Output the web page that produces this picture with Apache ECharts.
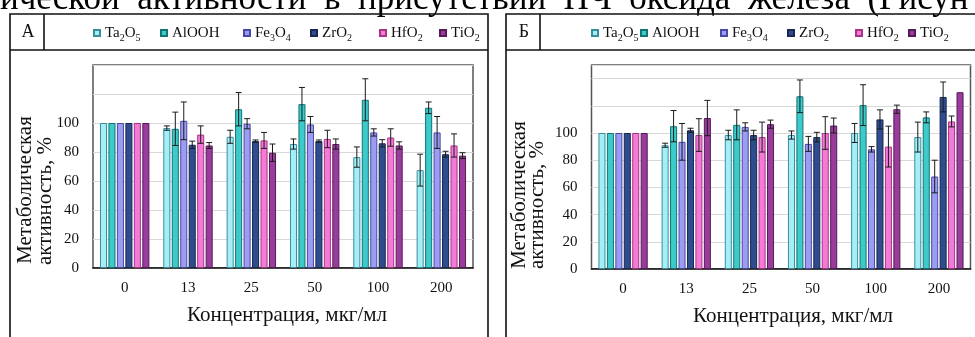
<!DOCTYPE html>
<html><head><meta charset="utf-8">
<script src="https://cdn.jsdelivr.net/npm/echarts@6/dist/echarts.min.js"></script>
<style>html,body{margin:0;padding:0;background:#fff}#c{width:975px;height:337px}</style>
</head><body><div id="c"></div>
<script>
// ---------- data ----------
const categories = ['0', '13', '25', '50', '100', '200'];
const oxides = ['Ta2O5', 'AlOOH', 'Fe3O4', 'ZrO2', 'HfO2', 'TiO2'];
const legendLabels = ['Ta{s|2}O{s|5}', 'AlOOH', 'Fe{s|3}O{s|4}', 'ZrO{s|2}', 'HfO{s|2}', 'TiO{s|2}'];
const yTickLabelsShown = [0, 20, 40, 60, 80, 100];

// Panel A values (%)
const A_Ta2O5 = [100, 96.5, 90.5, 85.5, 76.5, 67.5];
const A_AlOOH = [100, 96, 109.5, 113, 116, 110.5];
const A_Fe3O4 = [100, 101.5, 99.5, 99, 93.5, 93.5];
const A_ZrO2  = [100, 85, 87.5, 87.5, 86, 78.5];
const A_HfO2  = [100, 92, 88, 89, 90, 84.5];
const A_TiO2  = [100, 84.5, 79.5, 85.5, 84.5, 77.5];
// Panel A errors (±)
const A_Ta2O5_err = [0, 1.5, 4.5, 3.5, 7, 11];
const A_AlOOH_err = [0, 11.5, 11.5, 11.5, 14.5, 4];
const A_Fe3O4_err = [0, 13, 3.5, 5.5, 2.5, 11];
const A_ZrO2_err  = [0, 2.5, 0.8, 0.8, 2.5, 2];
const A_HfO2_err  = [0, 6, 5.5, 6, 6, 8];
const A_TiO2_err  = [0, 2, 6, 3.5, 2.5, 2];

// Panel Б values (%)
const B_Ta2O5 = [100, 91, 98.5, 98.5, 100, 97];
const B_AlOOH = [100, 105, 106, 127, 120.5, 111.5];
const B_Fe3O4 = [100, 93.5, 104.5, 92, 88, 68];
const B_ZrO2  = [100, 102, 98.5, 97, 110, 126.5];
const B_HfO2  = [100, 98.5, 97, 100, 90, 108.5];
const B_TiO2  = [100, 111, 106.5, 105.5, 117.5, 130];
// Panel Б errors (±)
const B_Ta2O5_err = [0, 1.5, 3.5, 3, 7, 11];
const B_AlOOH_err = [0, 11.5, 11, 12, 15, 4];
const B_Fe3O4_err = [0, 13.5, 3, 5.5, 2, 12];
const B_ZrO2_err  = [0, 1.5, 3.5, 3.5, 7, 11];
const B_HfO2_err  = [0, 12, 11, 12, 15, 4];
const B_TiO2_err  = [0, 13, 3, 5.5, 3, 0];

const A_vals = [A_Ta2O5, A_AlOOH, A_Fe3O4, A_ZrO2, A_HfO2, A_TiO2];
const A_errs = [A_Ta2O5_err, A_AlOOH_err, A_Fe3O4_err, A_ZrO2_err, A_HfO2_err, A_TiO2_err];
const B_vals = [B_Ta2O5, B_AlOOH, B_Fe3O4, B_ZrO2, B_HfO2, B_TiO2];
const B_errs = [B_Ta2O5_err, B_AlOOH_err, B_Fe3O4_err, B_ZrO2_err, B_HfO2_err, B_TiO2_err];

// ---------- styles ----------
const fills   = ['#a4eef8', '#3ccaca', '#9c9cf0', '#2f4d8e', '#f47ad8', '#9a3c9c'];
const borders = ['#3a8e9c', '#127474', '#4848a8', '#18284e', '#a83486', '#561a58'];
const SERIF = '"Liberation Serif", "DejaVu Serif", serif';
const CAT_GAP = 0.22, BAR_GAP = 0.2;

function errRender(params, api) {
  const ci = api.value(0), si = api.value(1), v = api.value(2), e = api.value(3);
  if (!e) return null;
  const c = api.coord([ci, v]);
  const band = api.size([1, 0])[0];
  const groupW = band * (1 - CAT_GAP);
  const bw = groupW / (6 + 5 * BAR_GAP);
  const x = c[0] - groupW / 2 + si * bw * (1 + BAR_GAP) + bw / 2;
  const top = api.coord([ci, v + e])[1];
  const bot = api.coord([ci, v - e])[1];
  const cap = 3;
  const st = { stroke: '#1a1a1a', lineWidth: 1 };
  return { type: 'group', children: [
    { type: 'line', shape: { x1: x, y1: top, x2: x, y2: bot }, style: st },
    { type: 'line', shape: { x1: x - cap, y1: top, x2: x + cap, y2: top }, style: st },
    { type: 'line', shape: { x1: x - cap, y1: bot, x2: x + cap, y2: bot }, style: st }
  ]};
}

function errData(vals, errs) {
  const d = [];
  vals.forEach((arr, si) => arr.forEach((v, ci) => d.push([ci, si, v, errs[si][ci]])));
  return d;
}

const series = [];
[[A_vals, A_errs], [B_vals, B_errs]].forEach(([vals, errs], p) => {
  oxides.forEach((name, i) => {
    series.push({
      type: 'bar', name, xAxisIndex: p, yAxisIndex: p,
      data: vals[i],
      barCategoryGap: (CAT_GAP * 100) + '%', barGap: (BAR_GAP * 100) + '%',
      itemStyle: { color: fills[i], borderColor: borders[i], borderWidth: 1 },
      emphasis: { disabled: true }, animation: false
    });
  });
  series.push({
    type: 'custom', xAxisIndex: p, yAxisIndex: p, z: 5,
    renderItem: errRender, data: errData(vals, errs),
    encode: { x: 0, y: 2 }, animation: false, silent: true
  });
});

const legendXA = [93, 160, 243, 310, 379, 439];
const legendXB = [591, 640, 720, 787, 855, 908];
const legends = [];
[legendXA, legendXB].forEach(xs => {
  oxides.forEach((name, i) => {
    legends.push({
      data: [name], left: xs[i], top: 23, itemWidth: 6, itemHeight: 6,
      icon: 'rect', selectedMode: false, padding: 0,
      formatter: () => legendLabels[i],
      textStyle: {
        fontFamily: SERIF, fontSize: 15, color: '#111', lineHeight: 20,
        rich: { s: { fontFamily: SERIF, fontSize: 10, verticalAlign: 'bottom', color: '#111' } }
      }
    });
  });
});

function yAxis(max, idx) {
  return {
    type: 'value', gridIndex: idx, min: 0, max, interval: 20,
    axisLine: { show: false }, axisTick: { show: false },
    splitLine: { lineStyle: { color: '#d8d8d8', width: 1 } },
    axisLabel: {
      fontFamily: SERIF, fontSize: 15, color: '#111', margin: 14,
      formatter: v => (yTickLabelsShown.indexOf(v) >= 0 ? String(v) : '')
    }
  };
}
function xAxis(idx) {
  return {
    type: 'category', gridIndex: idx, data: categories,
    axisLine: { lineStyle: { color: '#111', width: 1.5 } },
    axisTick: { show: false },
    axisLabel: { fontFamily: SERIF, fontSize: 15, color: '#111', margin: 13 }
  };
}

const titleStyle = { fontFamily: SERIF, fontSize: 21, fill: '#111' };
function rotText(t, x, y) {
  return { type: 'text', x, y, rotation: Math.PI / 2,
    style: Object.assign({ text: t, align: 'center', verticalAlign: 'middle' }, titleStyle) };
}
const boxStroke = { stroke: '#111', lineWidth: 1.6, fill: null };

const option = {
  backgroundColor: '#fff',
  animation: false,
  grid: [
    { left: 93, top: 65, width: 380, height: 203, show: true, borderColor: '#555', borderWidth: 1.5, backgroundColor: 'transparent', outerBoundsMode: 'none' },
    { left: 591.5, top: 65, width: 379, height: 204, show: true, borderColor: '#555', borderWidth: 1.5, backgroundColor: 'transparent', outerBoundsMode: 'none' }
  ],
  xAxis: [xAxis(0), xAxis(1)],
  yAxis: [yAxis(140, 0), yAxis(150, 1)],
  legend: legends,
  series,
  graphic: [
    { type: 'text', x: 0, y: 0, style: { text: 'ической  активности  в  присутствии  НЧ  оксида  железа  (Рисун', fontFamily: SERIF, fontSize: 35, fill: '#000', verticalAlign: 'middle', align: 'left' } },
    // panel A frame
    { type: 'rect', shape: { x: 10, y: 14, width: 478, height: 340 }, style: boxStroke },
    { type: 'line', shape: { x1: 10, y1: 50, x2: 488, y2: 50 }, style: boxStroke },
    { type: 'line', shape: { x1: 44, y1: 14, x2: 44, y2: 50 }, style: boxStroke },
    { type: 'text', x: 28, y: 32, style: { text: 'А', fontFamily: SERIF, fontSize: 18, fill: '#111', align: 'center', verticalAlign: 'middle' } },
    // panel Б frame
    { type: 'rect', shape: { x: 506, y: 14, width: 500, height: 340 }, style: boxStroke },
    { type: 'line', shape: { x1: 506, y1: 50, x2: 990, y2: 50 }, style: boxStroke },
    { type: 'line', shape: { x1: 540, y1: 14, x2: 540, y2: 50 }, style: boxStroke },
    { type: 'text', x: 524, y: 32, style: { text: 'Б', fontFamily: SERIF, fontSize: 18, fill: '#111', align: 'center', verticalAlign: 'middle' } },
    // axis titles
    { type: 'text', x: 287, y: 315, style: Object.assign({ text: 'Концентрация, мкг/мл', align: 'center', verticalAlign: 'middle' }, titleStyle) },
    { type: 'text', x: 793, y: 316, style: Object.assign({ text: 'Концентрация, мкг/мл', align: 'center', verticalAlign: 'middle' }, titleStyle) },
    rotText('Метаболическая', 25, 190),
    rotText('активность, %', 45, 201),
    rotText('Метаболическая', 519, 195),
    rotText('активность, %', 537, 205)
  ]
};

const chart = echarts.init(document.getElementById('c'), null, { renderer: 'canvas' });
chart.setOption(option);
</script>
</body></html>
